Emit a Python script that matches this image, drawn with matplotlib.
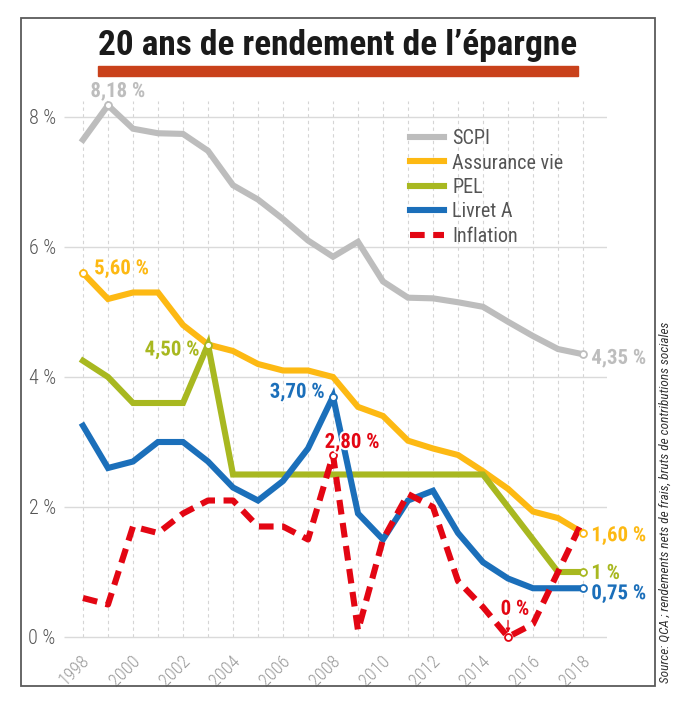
import matplotlib
matplotlib.use('Agg')
import matplotlib.pyplot as plt
import matplotlib.patheffects as pe
from matplotlib import font_manager
from matplotlib.transforms import ScaledTranslation
from matplotlib.patches import Rectangle

years = list(range(1998, 2019))
scpi = [7.65, 8.18, 7.82, 7.75, 7.74, 7.48, 6.95, 6.73, 6.43, 6.10, 5.85,
        6.08, 5.47, 5.22, 5.21, 5.15, 5.08, 4.85, 4.63, 4.43, 4.35]
assurance_vie = [5.60, 5.20, 5.30, 5.30, 4.80, 4.50, 4.40, 4.20, 4.10, 4.10, 4.00,
                 3.54, 3.40, 3.02, 2.90, 2.80, 2.55, 2.28, 1.93, 1.83, 1.60]
pel = [4.25, 4.00, 3.60, 3.60, 3.60, 4.50, 2.50, 2.50, 2.50, 2.50, 2.50,
       2.50, 2.50, 2.50, 2.50, 2.50, 2.50, 2.00, 1.50, 1.00, 1.00]
livret_a = [3.25, 2.60, 2.70, 3.00, 3.00, 2.70, 2.30, 2.10, 2.40, 2.90, 3.70,
            1.90, 1.50, 2.10, 2.25, 1.60, 1.15, 0.90, 0.75, 0.75, 0.75]
inflation = [0.60, 0.50, 1.70, 1.60, 1.90, 2.10, 2.10, 1.70, 1.70, 1.50, 2.80,
             0.10, 1.50, 2.20, 2.00, 0.86, 0.46, 0.00, 0.20, 1.00, 1.80]
yticks = [0, 2, 4, 6, 8]
xticks = list(range(1998, 2019, 2))

# colours
c_scpi = '#BDBDBD'
c_av = '#FDB913'
c_pel = '#A8B820'
c_liv = '#1B6FBA'
c_inf = '#E30613'
c_txt = '#555555'

# pick a narrow font if one is around
names = {f.name for f in font_manager.fontManager.ttflist}
font = 'DejaVu Sans'
for n in ['Roboto Condensed', 'Liberation Sans Narrow', 'Open Sans Condensed']:
    if n in names:
        font = n
        break
plt.rcParams['font.family'] = [font, 'DejaVu Sans']

W, H = 680, 704
fig = plt.figure(figsize=(W / 100, H / 100), dpi=100)

# axes: x 64..607 px, y 0% at 637 px, 65 px per unit
ylo, yhi = -0.1, 8.6
bot_px = 637 - ylo * 65
top_px = 637 - yhi * 65
ax = fig.add_axes([64 / W, (H - bot_px) / H, (607 - 64) / W, (bot_px - top_px) / H])
ax.set_xlim(1997.24, 2018.96)
ax.set_ylim(ylo, yhi)
for s in ax.spines.values():
    s.set_visible(False)

ax.vlines(years, 0, 8.25, colors='#D5D5D5', linestyles=(0, (3, 3)), lw=0.8, zorder=0)
ax.hlines(yticks, 1997.24, 2018.96, colors='#DADADA', lw=1.0, zorder=0)

lw = 4.4
ax.plot(years, scpi, color=c_scpi, lw=lw, solid_joinstyle='miter', label='SCPI', zorder=3)
ax.plot(years, assurance_vie, color=c_av, lw=lw, solid_joinstyle='miter', label='Assurance vie', zorder=3)
ax.plot(years, pel, color=c_pel, lw=lw, solid_joinstyle='miter', label='PEL', zorder=4)
ax.plot(years, livret_a, color=c_liv, lw=lw, solid_joinstyle='miter', label='Livret A', zorder=4)
ax.plot(years, inflation, color=c_inf, lw=lw, dashes=(2.4, 1.4), dash_capstyle='butt',
        label='Inflation', zorder=5)


def mark(series, yr, color):
    v = series[years.index(yr)]
    ax.plot([yr], [v], 'o', ms=5, mfc='white', mec=color, mew=1.3, zorder=6)
    return v


def label(series, yr, txt, color, dx, dy, ha='left', va='center'):
    v = mark(series, yr, color)
    ax.annotate(txt, (yr, v), xytext=(dx, dy), textcoords='offset points',
                ha=ha, va=va, color=color, fontsize=15, fontweight='bold', zorder=7,
                path_effects=[pe.withStroke(linewidth=3, foreground='white')])


label(scpi, 1999, '8,18 %', c_scpi, 7, 3, ha='center', va='bottom')
label(assurance_vie, 1998, '5,60 %', c_av, 8, 3)
label(pel, 2003, '4,50 %', c_pel, -6, -4, ha='right')
label(livret_a, 2008, '3,70 %', c_liv, -6, 3, ha='right')
label(inflation, 2008, '2,80 %', c_inf, -6, 9)
label(inflation, 2015, '0 %', c_inf, 5, 20, ha='center')
ax.annotate('', (2015, inflation[years.index(2015)]), xytext=(0, 12), textcoords='offset points',
            arrowprops=dict(arrowstyle='-|>', color=c_inf, lw=0.9, mutation_scale=6,
                            shrinkA=0, shrinkB=3), zorder=7)
label(scpi, 2018, '4,35 %', c_scpi, 6, -3)
label(assurance_vie, 2018, '1,60 %', c_av, 6, -2)
label(pel, 2018, '1 %', c_pel, 6, -1)
label(livret_a, 2018, '0,75 %', c_liv, 6, -4)

ax.set_yticks(yticks)
ax.set_yticklabels([f'{t} %' for t in yticks], fontsize=14.5, color=c_txt, fontweight='light')
ax.set_xticks(xticks)
ax.set_xticklabels([str(x) for x in xticks], fontsize=13, color='#999999', rotation=45,
                   ha='center', va='top', fontweight='light')
ax.tick_params(length=0, pad=6)
for t in ax.get_xticklabels():
    t.set_transform(t.get_transform() + ScaledTranslation(-6 / 72, 0, fig.dpi_scale_trans))

leg = ax.legend(loc='upper left', bbox_to_anchor=(400 / W, (H - 119) / H),
                bbox_transform=fig.transFigure, frameon=False, fontsize=14.5,
                handlelength=1.7, handletextpad=0.4, labelspacing=0.27, borderpad=0)
for t in leg.get_texts():
    t.set_color(c_txt)

# title + red bar + frame
fig.text(338 / W, (H - 46) / H, "20 ans de rendement de l\u2019épargne", ha='center', va='center',
         fontsize=25.5, fontweight='bold', color='#1A1A1A')
fig.patches.append(Rectangle((98 / W, (H - 76) / H), (578 - 98) / W, 10 / H,
                             transform=fig.transFigure, color='#C9411B'))
fig.patches.append(Rectangle((21 / W, (H - 686) / H), (655 - 21) / W, (686 - 18) / H,
                             transform=fig.transFigure, fill=False, ec='#5A5A5A', lw=1.3))
fig.text(665 / W, (H - 683) / H,
         'Source: QCA ; rendements nets de frais, bruts de contributions sociales',
         rotation=90, ha='center', va='bottom', fontsize=9.5, style='italic', color='#333333')

fig.savefig('out.png', dpi=100)
